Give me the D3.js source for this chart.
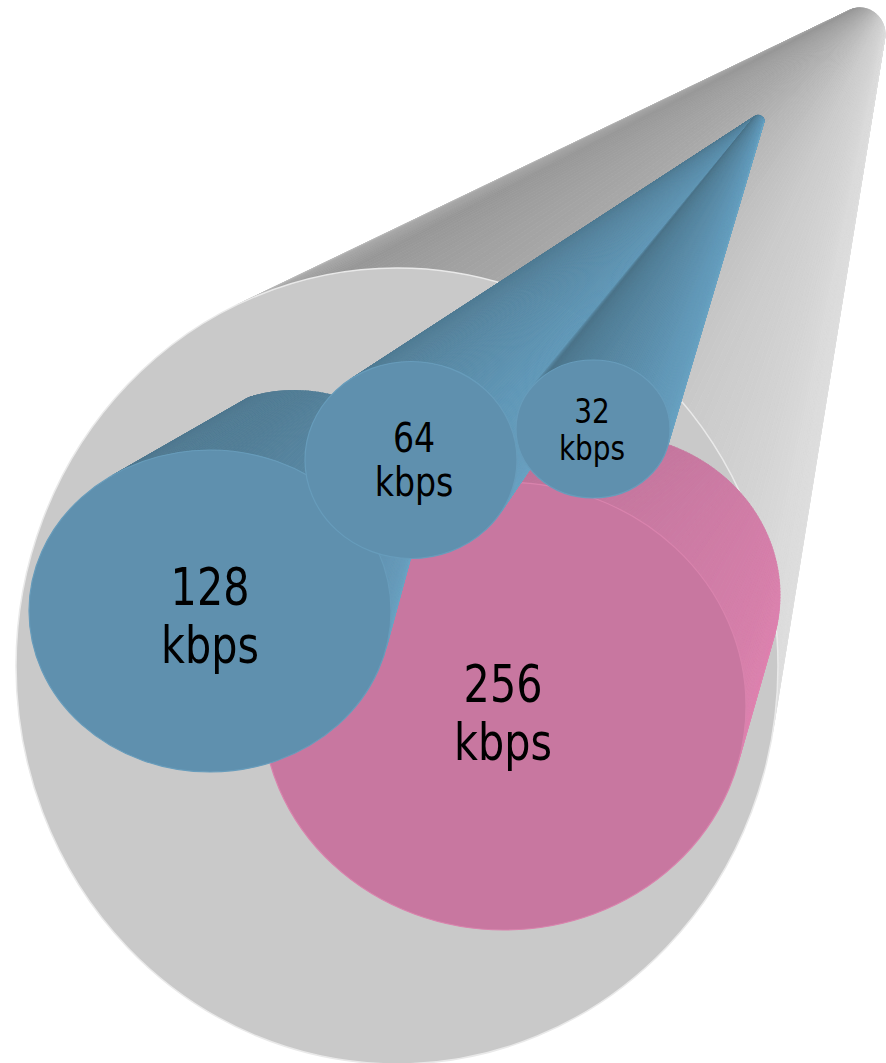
<!DOCTYPE html>
<html>
<head>
<meta charset="utf-8">
<script src="https://cdnjs.cloudflare.com/ajax/libs/d3/7.8.5/d3.min.js"></script>
<style>
  html, body { margin: 0; padding: 0; background: #fff; }
  svg { display: block; }
  text { font-family: "DejaVu Sans", sans-serif; font-stretch: condensed; fill: #000; }
</style>
</head>
<body>
<div id="chart"></div>
<script>
// Bitrate groups, drawn back to front
var bitrates = [256, 128, 64, 32];
var unit = "kbps";

var width = 886;
var height = 1063;

// Scales from bitrate to the end-cap ellipse of each cone
var rx = d3.scaleOrdinal().domain(bitrates).range([242, 181, 106, 77]);
var ry = d3.scaleOrdinal().domain(bitrates).range([224, 161, 98.5, 69]);
var cx = d3.scaleOrdinal().domain(bitrates).range([504, 210, 411, 593]);
var cy = d3.scaleOrdinal().domain(bitrates).range([706, 611, 460, 429]);
var fontSize = d3.scaleOrdinal().domain(bitrates).range([51, 51, 41, 34.5]);
var labelX = d3.scaleOrdinal().domain(bitrates).range([503, 210, 414, 592]);
var labelY = d3.scaleOrdinal().domain(bitrates).range([702, 605, 452, 423]);
var lineGap = d3.scaleOrdinal().domain(bitrates).range([58, 58, 44, 37]);

// Far end of each cone
var backX = d3.scaleOrdinal().domain(bitrates).range([606, 489, 758, 758]);
var backY = d3.scaleOrdinal().domain(bitrates).range([595, 262, 121, 121]);
var backR = d3.scaleOrdinal().domain(bitrates).range([174, 2, 6, 6]);

var sideColor = d3.scaleOrdinal().domain(bitrates).range([
    d3.scaleLinear().domain([0, 0.5, 1]).range(["#b56c91", "#cb7aa3", "#df83b0"]),
    d3.scaleLinear().domain([0, 0.3, 0.7, 1]).range(["#4f788f", "#527e97", "#5f92b0", "#6aa3c3"]),
    d3.scaleLinear().domain([0, 0.15, 0.6, 1]).range(["#4f7a92", "#537f98", "#6098b8", "#6aa3c3"]),
    d3.scaleLinear().domain([0, 0.12, 0.3, 0.7, 1]).range(["#659cbb", "#4b7389", "#527f98", "#6097b7", "#6aa3c3"])
]);

var svg = d3.select("#chart")
    .append("svg")
    .attr("width", width)
    .attr("height", height);

// Shaded side of a cone: strips between the end ellipse and the far end
function drawCone(parent, c, color) {
    var k = c.ry / c.rx;
    var dx = c.bx - c.x;
    var dy = (c.by - c.y) / k;
    var d = Math.sqrt(dx * dx + dy * dy);
    var axis = Math.atan2(dy, dx);
    var half = Math.acos((c.rx - c.br) / d);
    var n = 120;
    var g = parent.append("g");

    d3.range(n).forEach(function(i) {
        var a0 = axis - half + 2 * half * i / n;
        var a1 = axis - half + 2 * half * (i + 1) / n;
        var pts = [
            [c.x + c.rx * Math.cos(a0), c.y + c.ry * Math.sin(a0)],
            [c.x + c.rx * Math.cos(a1), c.y + c.ry * Math.sin(a1)],
            [c.bx + c.br * Math.cos(a1), c.by + c.br * k * Math.sin(a1)],
            [c.bx + c.br * Math.cos(a0), c.by + c.br * k * Math.sin(a0)]
        ];
        var col = color((i + 0.5) / n);
        g.append("path")
            .attr("d", d3.line()(pts) + "Z")
            .attr("fill", col)
            .attr("stroke", col)
            .attr("stroke-width", 0.8);
    });
    return g;
}

// Outer grey cone
var outer = { x: 397, y: 666, rx: 381, ry: 398, bx: 860, by: 34, br: 25 };
var outerColor = d3.scaleLinear()
    .domain([0, 0.05, 0.14, 0.35, 0.6, 0.85, 1])
    .range(["#c6c6c6", "#a8a8a8", "#979797", "#a9a9a9", "#cacaca", "#dbdbdb", "#dedede"]);
drawCone(svg, outer, outerColor);

svg.append("ellipse")
    .attr("cx", outer.x)
    .attr("cy", outer.y)
    .attr("rx", outer.rx)
    .attr("ry", outer.ry)
    .attr("fill", "#c9c9c9")
    .attr("stroke", "#e9e9e9")
    .attr("stroke-width", 1.5);

// The 128 cone is cut off along a shallow curve at its top
var cut = svg.append("clipPath").attr("id", "cut128");
cut.append("rect")
    .attr("x", 0)
    .attr("y", 398)
    .attr("width", width)
    .attr("height", height);
cut.append("circle")
    .attr("cx", 295)
    .attr("cy", 546)
    .attr("r", 156);

// Cones, then their end caps
bitrates.forEach(function(b) {
    var cone = drawCone(svg, {
        x: cx(b), y: cy(b), rx: rx(b), ry: ry(b),
        bx: backX(b), by: backY(b), br: backR(b)
    }, sideColor(b));
    if (b === 128) cone.attr("clip-path", "url(#cut128)");

    if (b === 256) {
        svg.append("ellipse")
            .attr("cx", cx(b))
            .attr("cy", cy(b))
            .attr("rx", rx(b))
            .attr("ry", ry(b))
            .attr("fill", "#c877a0")
            .attr("stroke", "#d983ad")
            .attr("stroke-width", 1.2);
    }
});

svg.selectAll(".cap")
    .data(bitrates.filter(function(b) { return b !== 256; }))
    .enter()
    .append("ellipse")
    .attr("class", "cap")
    .attr("cx", function(d) { return cx(d); })
    .attr("cy", function(d) { return cy(d); })
    .attr("rx", function(d) { return rx(d); })
    .attr("ry", function(d) { return ry(d); })
    .attr("fill", "#5f90ae")
    .attr("stroke", "#679cbb")
    .attr("stroke-width", 1.2);

// Two-line labels, narrowed a little to fit the original letter shapes
var labels = svg.selectAll(".label")
    .data(bitrates)
    .enter()
    .append("text")
    .attr("class", "label")
    .attr("text-anchor", "middle")
    .attr("font-size", function(d) { return fontSize(d); })
    .attr("transform", function(d) { return "translate(" + labelX(d) + ",0) scale(0.9,1)"; });

labels.append("tspan")
    .attr("x", 0)
    .attr("y", function(d) { return labelY(d); })
    .text(function(d) { return d; });

labels.append("tspan")
    .attr("x", 0)
    .attr("y", function(d) { return labelY(d) + lineGap(d); })
    .text(unit);
</script>
</body>
</html>
